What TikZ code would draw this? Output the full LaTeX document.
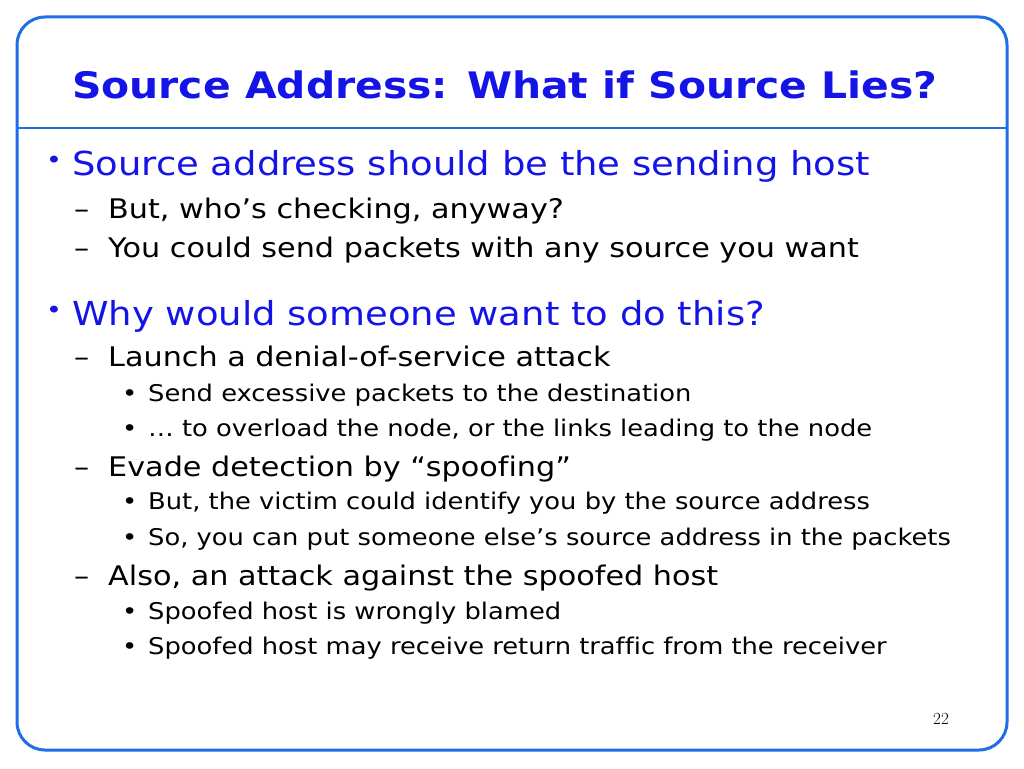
\documentclass[tikz,border=0pt]{standalone}
\usepackage{fontspec}
\setmainfont[FakeStretch=1.12,Ligatures=NoCommon]{DejaVu Sans}
\definecolor{sblue}{RGB}{20,20,230}
\definecolor{fblue}{RGB}{30,110,230}
\begin{document}
\begin{tikzpicture}[x=1pt,y=-1pt,
  t/.style={anchor=base west,inner sep=0pt},
  lone/.style={t,text=sblue,font=\fontsize{33}{40}\selectfont},
  ltwo/.style={t,font=\fontsize{27}{32}\selectfont},
  lthree/.style={t,font=\fontsize{23}{28}\selectfont}]
\useasboundingbox (0,0) rectangle (1024,768);
\draw[fblue,line width=3pt,rounded corners=28pt] (17,17) rectangle (1007,750);
\draw[fblue,line width=2.5pt] (17,128) -- (1007,128);
\node[t,text=sblue,font=\bfseries\fontsize{36.5}{44}\selectfont] (title) at (72,98) {Source Address: What if Source Lies?};
\node[t,text=sblue,font=\fontsize{24}{30}\selectfont] (b1) at (46,168) {•};
\node[lone] (l1) at (72,175) {Source address should be the sending host};
\node[ltwo] (d1) at (74,218) {–}; \node[ltwo] (l2) at (108,218) {But, who’s checking, anyway?};
\node[ltwo] (d2) at (74,257) {–}; \node[ltwo] (l3) at (108,257) {You could send packets with any source you want};
\node[t,text=sblue,font=\fontsize{24}{30}\selectfont] (b2) at (46,318) {•};
\node[lone] (l4) at (72,325) {Why would someone want to do this?};
\node[ltwo] (d3) at (74,366) {–}; \node[ltwo] (l5) at (108,366) {Launch a denial-of-service attack};
\node[lthree] (e1) at (122,401) {•}; \node[lthree] (l6) at (148,401) {Send excessive packets to the destination};
\node[lthree] (e2) at (122,436) {•}; \node[lthree] (l7) at (148,436) {… to overload the node, or the links leading to the node};
\node[ltwo] (d4) at (74,476) {–}; \node[ltwo] (l8) at (108,476) {Evade detection by “spoofing”};
\node[lthree] (e3) at (122,509) {•}; \node[lthree] (l9) at (148,509) {But, the victim could identify you by the source address};
\node[lthree] (e4) at (122,545) {•}; \node[lthree] (l10) at (148,545) {So, you can put someone else’s source address in the packets};
\node[ltwo] (d5) at (74,585) {–}; \node[ltwo] (l11) at (108,585) {Also, an attack against the spoofed host};
\node[lthree] (e5) at (122,619) {•}; \node[lthree] (l12) at (148,619) {Spoofed host is wrongly blamed};
\node[lthree] (e6) at (122,654) {•}; \node[lthree] (l13) at (148,654) {Spoofed host may receive return traffic from the receiver};
\node[t,font=\fontfamily{lmr}\fontsize{17}{20}\selectfont] (pg) at (933,724) {22};
\end{tikzpicture}
\end{document}
